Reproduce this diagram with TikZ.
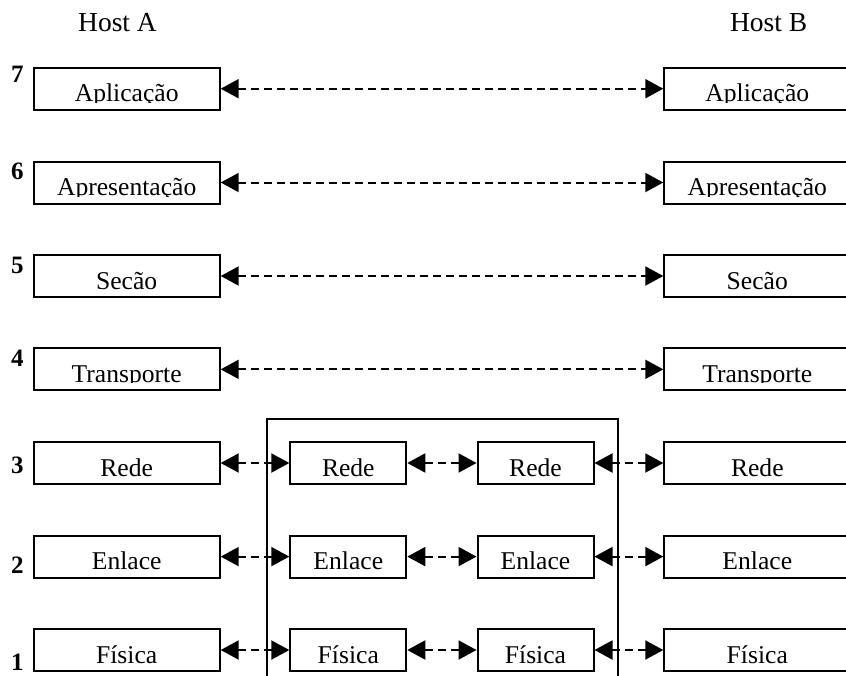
\documentclass[tikz,border=0pt]{standalone}
\usepackage{fontspec}
\setmainfont{Liberation Serif}
\usetikzlibrary{arrows.meta}

\tikzset{
  % one protocol layer: a framed box whose caption sits low and is cut at its baseline
  layer/.style={draw, line width=2pt, minimum width=186pt, minimum height=42pt,
    inner sep=0pt,
    path picture={
      \clip (path picture bounding box.north west)
        rectangle ([yshift=-13.6pt]path picture bounding box.east);
      \node[anchor=base, inner sep=0pt, font=\fontsize{25.6}{28}\selectfont]
        at ([yshift=-13pt]path picture bounding box.center) {#1};
    }},
  hop/.style={layer=#1, minimum width=116pt},
  peer/.style={dashed, dash pattern=on 8pt off 5pt, line width=2pt,
    {Triangle[length=18pt,width=19pt]}-{Triangle[length=18pt,width=19pt]}},
  num/.style={font=\fontsize{25}{28}\selectfont\bfseries, anchor=base west, inner sep=0pt},
  host/.style={font=\fontsize{27.5}{30}\selectfont, anchor=base, inner sep=0pt},
}

\begin{document}
\begin{tikzpicture}[x=1pt, y=-1pt]
  \clip (0,0) rectangle (846,675);

  % host headings
  \node[host] (hostA) at (117.5,31) {Host A};
  \node[host] (hostB) at (768.7,31) {Host B};

  % intermediate system enclosing the lower three layers
  \node[draw, line width=2pt, minimum width=351pt, minimum height=259.5pt,
        inner sep=0pt] (router) at (442.2,548.45) {};

  % end-host stacks
  \node[layer=Aplicação]    (a7) at (126.7,88.7)   {};
  \node[layer=Apresentação] (a6) at (126.7,182.5)  {};
  \node[layer=Secão]        (a5) at (126.7,276)    {};
  \node[layer=Transporte]   (a4) at (126.7,369.35) {};
  \node[layer=Rede]         (a3) at (126.7,463)    {};
  \node[layer=Enlace]       (a2) at (126.7,556.6)  {};
  \node[layer=Física]       (a1) at (126.7,650)    {};

  \node[layer=Aplicação]    (b7) at (757.3,88.7)   {};
  \node[layer=Apresentação] (b6) at (757.3,182.5)  {};
  \node[layer=Secão]        (b5) at (757.3,276)    {};
  \node[layer=Transporte]   (b4) at (757.3,369.35) {};
  \node[layer=Rede]         (b3) at (757.3,463)    {};
  \node[layer=Enlace]       (b2) at (757.3,556.6)  {};
  \node[layer=Física]       (b1) at (757.3,650)    {};

  % two relay stacks inside the intermediate system
  \node[hop=Rede]   (p3) at (348.3,463)   {};
  \node[hop=Enlace] (p2) at (348.3,556.6) {};
  \node[hop=Física] (p1) at (348.3,650)   {};
  \node[hop=Rede]   (q3) at (535.5,463)   {};
  \node[hop=Enlace] (q2) at (535.5,556.6) {};
  \node[hop=Física] (q1) at (535.5,650)   {};

  % layer numbers
  \node[num] (n7) at (11,82)    {7};
  \node[num] (n6) at (11,179)   {6};
  \node[num] (n5) at (11,273)   {5};
  \node[num] (n4) at (11,366.7) {4};
  \node[num] (n3) at (11,473.3) {3};
  \node[num] (n2) at (11,573.3) {2};
  \node[num] (n1) at (11,670)   {1};

  % peer-to-peer exchanges
  \foreach \k in {7,6,5,4} {
    \draw[peer] (a\k.east) -- (b\k.west);
  }
  \foreach \k in {3,2,1} {
    \draw[peer] (a\k.east) -- (p\k.west);
    \draw[peer] (p\k.east) -- (q\k.west);
    \draw[peer] (q\k.east) -- (b\k.west);
  }
\end{tikzpicture}
\end{document}
